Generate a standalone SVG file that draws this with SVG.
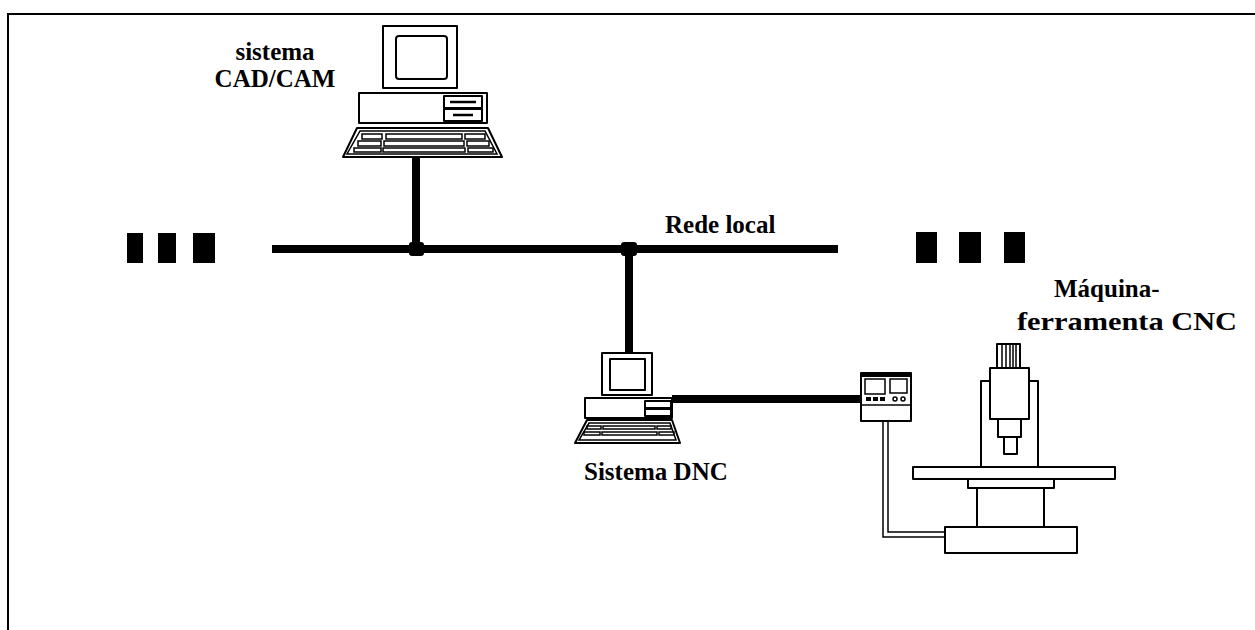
<svg xmlns="http://www.w3.org/2000/svg" width="1255" height="630" viewBox="0 0 1255 630">
  <defs>
    <style>
      .ol { fill: #fff; stroke: #000; stroke-width: 2; stroke-linejoin: round; }
      .thin { fill: none; stroke: #000; stroke-width: 1.5; }
      .lbl { font-family: "Liberation Serif", "Times New Roman", serif; font-weight: bold; font-size: 25px; fill: #000; }
      .bus { stroke: #000; stroke-width: 8; fill: none; }
      .blk { fill: #000; }
    </style>
  </defs>
  <rect width="1255" height="630" fill="#fff"/>

  <!-- frame -->
  <path d="M8,630 V14 H1255" fill="none" stroke="#000" stroke-width="2"/>

  <!-- network connectors -->
  <g id="connectors">
    <line class="bus" x1="272" y1="249" x2="838" y2="249"/>
    <line class="bus" x1="416" y1="157" x2="416" y2="249"/>
    <line class="bus" x1="629" y1="249" x2="629" y2="352"/>
    <rect class="blk" x="409" y="242" width="15" height="14" rx="3"/>
    <rect class="blk" x="621" y="242" width="16" height="14" rx="3"/>
    <line class="bus" x1="672" y1="399" x2="862" y2="399" stroke-width="7"/>
    <!-- cable from control panel to machine base -->
    <path class="thin" d="M883,421 V537 H945 M888,421 V532 H945"/>
  </g>
  <g id="label-bus">
    <text class="lbl" x="665" y="233">Rede local</text>
  </g>

  <!-- ellipsis blocks -->
  <g id="dots-left">
    <rect class="blk" x="127" y="233" width="16" height="30"/>
    <rect class="blk" x="158" y="233" width="18" height="30"/>
    <rect class="blk" x="193" y="233" width="22" height="30"/>
  </g>
  <g id="dots-right">
    <rect class="blk" x="916" y="232" width="21" height="31"/>
    <rect class="blk" x="959" y="232" width="22" height="31"/>
    <rect class="blk" x="1004" y="232" width="21" height="31"/>
  </g>

  <!-- CAD/CAM workstation -->
  <g id="cadcam">
    <rect class="ol" x="383" y="26" width="74" height="62"/>
    <rect class="ol" x="396" y="36" width="51" height="43" rx="3"/>
    <rect class="ol" x="359" y="93" width="128" height="30"/>
    <rect class="ol" x="444" y="96" width="38" height="12"/>
    <rect class="ol" x="444" y="109" width="38" height="12"/>
    <line x1="450" y1="102" x2="476" y2="102" stroke="#000" stroke-width="2.5"/>
    <line x1="453" y1="115" x2="473" y2="115" stroke="#000" stroke-width="2.5"/>
    <polygon class="ol" points="357,128 488,128 502,157 343,157"/>
    <polygon class="thin" points="360,131 485,131 497,154 347,154"/>
    <g class="thin">
      <rect x="362" y="134" width="20" height="5"/>
      <rect x="386" y="134" width="76" height="5"/>
      <rect x="465" y="134" width="20" height="5"/>
      <rect x="358" y="141" width="23" height="5"/>
      <rect x="384" y="141" width="80" height="5"/>
      <rect x="467" y="141" width="22" height="5"/>
      <rect x="354" y="148" width="27" height="4"/>
      <rect x="383" y="148" width="82" height="4"/>
      <rect x="468" y="148" width="25" height="4"/>
    </g>
  </g>
  <g id="label-cadcam">
    <text class="lbl" x="275" y="60" text-anchor="middle">sistema</text>
    <text class="lbl" x="275" y="87" text-anchor="middle">CAD/CAM</text>
  </g>

  <!-- DNC workstation -->
  <g id="dnc">
    <rect class="ol" x="602" y="353" width="50" height="42"/>
    <rect class="ol" x="610" y="359" width="35" height="31"/>
    <rect class="ol" x="585" y="398" width="87" height="20"/>
    <rect class="ol" x="645" y="401" width="26" height="7"/>
    <rect class="ol" x="645" y="409" width="26" height="7"/>
    <polygon class="ol" points="587,420 672,420 680,443 575,443"/>
    <polygon class="thin" points="589,423 670,423 676,440 579,440"/>
    <g class="thin">
      <rect x="587" y="426" width="14" height="3"/>
      <rect x="603" y="426" width="52" height="3"/>
      <rect x="657" y="426" width="14" height="3"/>
      <rect x="584" y="432" width="16" height="3"/>
      <rect x="602" y="432" width="55" height="3"/>
      <rect x="659" y="432" width="15" height="3"/>
    </g>
  </g>
  <g id="label-dnc">
    <text class="lbl" x="584" y="480">Sistema DNC</text>
  </g>

  <!-- CNC control panel -->
  <g id="control">
    <rect class="ol" x="861" y="373" width="50" height="48"/>
    <rect class="blk" x="861" y="373" width="50" height="4"/>
    <line x1="861" y1="405" x2="911" y2="405" stroke="#000" stroke-width="1.5"/>
    <rect class="thin" x="865" y="379" width="20" height="15"/>
    <rect class="thin" x="890" y="379" width="17" height="14"/>
    <rect class="blk" x="866" y="397" width="5" height="4"/>
    <rect class="blk" x="873" y="397" width="5" height="4"/>
    <rect class="blk" x="880" y="397" width="5" height="4"/>
    <circle class="thin" cx="895" cy="399" r="2"/>
    <circle class="thin" cx="903" cy="399" r="2"/>
  </g>

  <!-- machine tool -->
  <g id="machine">
    <rect class="ol" x="981" y="381" width="57" height="86"/>
    <rect class="ol" x="997" y="344" width="23" height="24"/>
    <path class="thin" d="M1002,345 V367 M1006,345 V367 M1010,345 V367 M1013,345 V367 M1016,345 V367"/>
    <rect class="ol" x="990" y="368" width="39" height="51"/>
    <rect class="ol" x="998" y="419" width="23" height="18"/>
    <rect class="ol" x="1004" y="437" width="13" height="17"/>
    <rect class="ol" x="977" y="488" width="67" height="39"/>
    <rect class="ol" x="968" y="479" width="86" height="9"/>
    <rect class="ol" x="913" y="467" width="202" height="12"/>
    <rect class="ol" x="945" y="527" width="132" height="26"/>
  </g>
  <g id="label-machine">
    <text class="lbl" x="1054" y="297">Máquina-</text>
    <text class="lbl" x="1017" y="330" textLength="220" lengthAdjust="spacingAndGlyphs">ferramenta CNC</text>
  </g>
</svg>
